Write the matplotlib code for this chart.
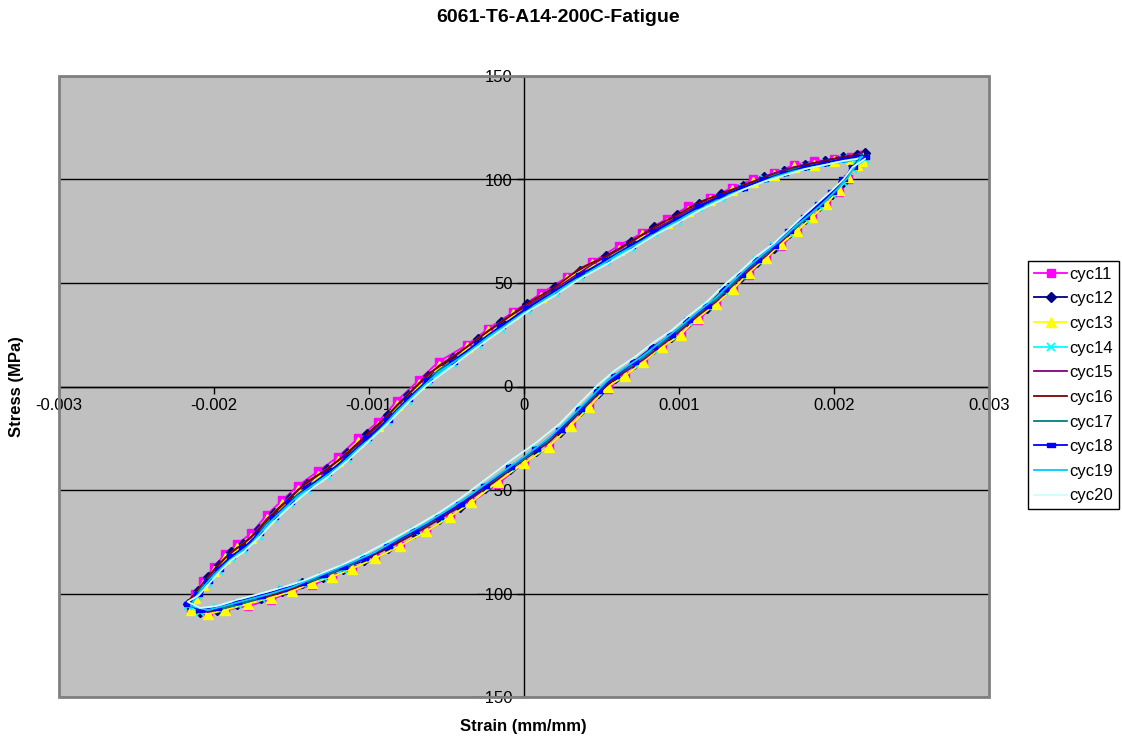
import numpy as np
import matplotlib
matplotlib.use('Agg')
from matplotlib import pyplot as plt
from matplotlib.patches import Rectangle

plt.rcParams['font.family'] = ['Liberation Sans', 'DejaVu Sans']

# strain readings in units of 1e-3 mm/mm, two sampling grids (A: odd cycles, B: even cycles)
strain_a = [2.18, 2.15, 2.09, 2.03, 1.95, 1.86, 1.76, 1.66, 1.56, 1.45,
            1.35, 1.24, 1.12, 1.01, 0.89, 0.77, 0.65, 0.54, 0.42, 0.30,
            0.16, 0.00, -0.17, -0.34, -0.48, -0.63, -0.80, -0.96, -1.11, -1.24,
            -1.37, -1.50, -1.63, -1.78, -1.93, -2.04, -2.15,
            -2.12, -2.07, -2.00, -1.93, -1.85, -1.76, -1.66, -1.56, -1.46, -1.33,
            -1.20, -1.07, -0.94, -0.82, -0.68, -0.55, -0.37, -0.23, -0.07, 0.11,
            0.28, 0.44, 0.61, 0.76, 0.92, 1.06, 1.20, 1.34, 1.48, 1.61,
            1.74, 1.87, 2.00, 2.11, 2.18]
strain_b = [2.20, 2.12, 2.06, 1.99, 1.90, 1.81, 1.71, 1.61, 1.50, 1.40,
            1.29, 1.18, 1.06, 0.95, 0.83, 0.71, 0.59, 0.48, 0.36, 0.23,
            0.08, -0.09, -0.25, -0.41, -0.55, -0.71, -0.88, -1.03, -1.17, -1.30,
            -1.43, -1.56, -1.70, -1.85, -1.98, -2.09, -2.17,
            -2.10, -2.04, -1.97, -1.89, -1.81, -1.71, -1.61, -1.51, -1.40, -1.27,
            -1.14, -1.01, -0.88, -0.75, -0.62, -0.46, -0.30, -0.15, 0.02, 0.20,
            0.36, 0.53, 0.69, 0.84, 0.99, 1.13, 1.27, 1.41, 1.55, 1.68,
            1.81, 1.94, 2.06, 2.15]

# stress (MPa)
cyc11 = [112, 108, 100, 94, 88, 82, 75, 68, 62, 54, 47, 40, 32, 25, 19, 12, 5, -1, -10, -19,
         -29, -37, -47, -56, -63, -70, -77, -83, -88, -92, -96, -99, -103, -106, -108, -110, -108,
         -100, -94, -87, -81, -76, -71, -62, -55, -48, -41, -34, -25, -17, -7, 3, 12, 20, 28, 36, 45,
         53, 60, 68, 74, 81, 87, 91, 96, 100, 103, 107, 109, 110, 111, 112]
cyc13 = [111, 107, 101, 95, 88, 82, 75, 69, 62, 55, 47, 40, 33, 25, 19, 12, 5, 0, -10, -19,
         -29, -37, -46, -56, -63, -70, -77, -83, -88, -92, -95, -99, -102, -105, -108, -110, -108,
         -102, -96, -89, -83, -78, -73, -64, -57, -50, -43, -36, -27, -19, -9, 1, 10, 19, 27, 35, 43,
         52, 59, 66, 73, 79, 85, 90, 95, 99, 102, 106, 107, 109, 110, 109]
cyc15 = [113, 109, 102, 96, 90, 84, 77, 70, 63, 56, 49, 41, 34, 27, 20, 13, 7, 1, -8, -17,
         -27, -35, -45, -54, -61, -68, -75, -81, -86, -90, -94, -98, -101, -104, -107, -109, -106,
         -100, -95, -89, -83, -78, -73, -64, -57, -50, -43, -36, -28, -19, -9, 1, 10, 19, 27, 35, 43,
         51, 59, 66, 73, 79, 85, 90, 95, 99, 103, 106, 108, 110, 111, 113]
cyc17 = [112, 109, 102, 96, 90, 84, 77, 71, 64, 57, 50, 42, 35, 28, 21, 14, 8, 2, -7, -16,
         -26, -35, -44, -53, -60, -67, -74, -80, -86, -90, -94, -97, -100, -104, -107, -108, -106,
         -101, -96, -90, -85, -80, -75, -66, -59, -52, -45, -38, -29, -21, -11, -1, 8, 17, 25, 33, 42,
         50, 57, 65, 71, 78, 84, 89, 94, 98, 102, 105, 107, 109, 110, 112]
cyc19 = [111, 108, 101, 96, 90, 84, 78, 71, 65, 58, 51, 43, 36, 29, 22, 15, 9, 3, -6, -15,
         -25, -34, -43, -52, -59, -66, -73, -80, -85, -89, -93, -97, -100, -103, -106, -108, -106,
         -102, -97, -91, -86, -81, -76, -67, -60, -53, -46, -39, -30, -22, -12, -2, 7, 16, 24, 32, 41,
         49, 56, 64, 70, 77, 83, 88, 93, 97, 101, 104, 106, 108, 109, 111]
cyc12 = [113, 107, 99, 93, 87, 81, 74, 67, 60, 53, 46, 38, 31, 24, 18, 11, 4, -3, -12, -22,
         -31, -40, -49, -58, -64, -71, -78, -84, -88, -92, -95, -99, -102, -105, -108, -109, -105,
         -99, -92, -86, -80, -76, -69, -61, -54, -47, -40, -32, -23, -14, -4, 5, 14, 23, 31, 40, 48,
         56, 63, 70, 77, 83, 88, 93, 97, 101, 104, 107, 109, 111, 112]
cyc14 = [110, 105, 99, 93, 87, 81, 74, 68, 61, 54, 46, 39, 31, 25, 18, 11, 5, -2, -11, -21,
         -30, -39, -48, -57, -63, -70, -77, -83, -88, -92, -95, -98, -102, -105, -107, -109, -106,
         -101, -95, -89, -83, -79, -72, -64, -57, -50, -43, -35, -26, -17, -7, 2, 11, 20, 28, 37, 45,
         53, 60, 67, 74, 80, 86, 91, 96, 100, 103, 106, 108, 110, 110]
cyc16 = [112, 106, 99, 93, 87, 81, 74, 68, 60, 53, 47, 38, 31, 24, 18, 12, 4, -3, -12, -22,
         -31, -40, -49, -57, -64, -71, -78, -83, -88, -92, -96, -99, -102, -105, -108, -108, -104,
         -98, -92, -86, -80, -76, -69, -61, -54, -46, -40, -32, -23, -14, -4, 6, 14, 23, 31, 40, 48,
         57, 63, 70, 77, 83, 89, 93, 97, 101, 104, 107, 109, 111, 112]
cyc18 = [111, 106, 100, 94, 88, 82, 75, 68, 61, 54, 47, 39, 32, 25, 19, 12, 5, -2, -11, -21,
         -30, -39, -48, -57, -63, -70, -77, -83, -87, -91, -95, -98, -101, -104, -107, -108, -105,
         -100, -94, -88, -82, -78, -71, -63, -56, -49, -42, -34, -25, -16, -6, 3, 12, 21, 29, 38, 46,
         54, 61, 68, 75, 81, 87, 92, 96, 100, 103, 106, 108, 110, 111]
cyc20 = [110, 106, 100, 95, 89, 83, 76, 69, 63, 56, 49, 41, 34, 27, 21, 14, 8, 1, -8, -18,
         -27, -36, -45, -54, -61, -68, -75, -81, -86, -90, -94, -97, -100, -103, -106, -107, -104,
         -101, -96, -90, -84, -80, -73, -65, -58, -51, -44, -36, -27, -18, -8, 1, 10, 19, 27, 36, 44,
         52, 59, 66, 73, 79, 85, 90, 95, 99, 102, 105, 107, 109, 110]

names = ['cyc11', 'cyc12', 'cyc13', 'cyc14', 'cyc15', 'cyc16', 'cyc17', 'cyc18', 'cyc19', 'cyc20']
stresses = [cyc11, cyc12, cyc13, cyc14, cyc15, cyc16, cyc17, cyc18, cyc19, cyc20]
grids = [strain_a, strain_b, strain_a, strain_b, strain_a, strain_b, strain_a, strain_b, strain_a, strain_b]

xticks = [-0.003, -0.002, -0.001, 0, 0.001, 0.002, 0.003]
xtick_labels = ['-0.003', '-0.002', '-0.001', '0', '0.001', '0.002', '0.003']
yticks = [-150, -100, -50, 0, 50, 100, 150]

dash = [(-1, -0.45), (1, -0.45), (1, 0.45), (-1, 0.45), (-1, -0.45)]
styles = [
    dict(color='#FF00FF', marker='s', ms=6),
    dict(color='#000080', marker='D', ms=5),
    dict(color='#FFFF00', marker='^', ms=7),
    dict(color='#00FFFF', marker='x', ms=6, mew=1.3),
    dict(color='#800080'),
    dict(color='#800000'),
    dict(color='#008080'),
    dict(color='#0000FF', marker=dash, ms=6),
    dict(color='#00CCFF'),
    dict(color='#CCFFFF'),
]

fig = plt.figure(figsize=(11.22, 7.40), dpi=100)
ax = fig.add_axes([59/1122, 43/740, 930/1122, 621/740])
ax.set_facecolor('#C0C0C0')

for name, grid, s, st in zip(names, grids, stresses, styles):
    x = np.array(grid) * 1e-3
    ax.plot(x, s, label=name, lw=1.3, mec=st['color'], **st)

ax.set_xlim(-0.003, 0.003)
ax.set_ylim(-150, 150)
ax.set_xticks(xticks)
ax.set_xticklabels(xtick_labels)
ax.set_yticks(yticks)

ax.spines['left'].set_position(('data', 0))
ax.spines['bottom'].set_position(('data', 0))
ax.spines['top'].set_visible(False)
ax.spines['right'].set_visible(False)
for sp in ['left', 'bottom']:
    ax.spines[sp].set_color('black')
    ax.spines[sp].set_linewidth(1)
    ax.spines[sp].set_zorder(1.5)
ax.tick_params(direction='out', length=5, width=1, labelsize=12, pad=3)
ax.yaxis.grid(True, color='black', lw=1)
ax.set_axisbelow(True)
ax.add_patch(Rectangle((0, 0), 1, 1, transform=ax.transAxes, fill=False,
                       edgecolor='#808080', lw=2, clip_on=False, zorder=5))

fig.text(558/1122, 1 - 18/740, '6061-T6-A14-200C-Fatigue', ha='center', va='center',
         fontsize=14, fontweight='bold')
fig.text(523/1122, 1 - 727/740, 'Strain (mm/mm)', ha='center', va='center',
         fontsize=12, fontweight='bold')
fig.text(17/1122, 1 - 387/740, 'Stress (MPa)', ha='center', va='center',
         fontsize=12, fontweight='bold', rotation=90)

leg = fig.legend(loc='center left', bbox_to_anchor=(1028/1122, 1 - 385/740), fontsize=12,
                 frameon=True, fancybox=False, edgecolor='black', framealpha=1,
                 handlelength=2.0, labelspacing=0.58, borderpad=0.35, handletextpad=0.15,
                 borderaxespad=0)
leg.get_frame().set_linewidth(1)

fig.savefig('out.png', dpi=100)
